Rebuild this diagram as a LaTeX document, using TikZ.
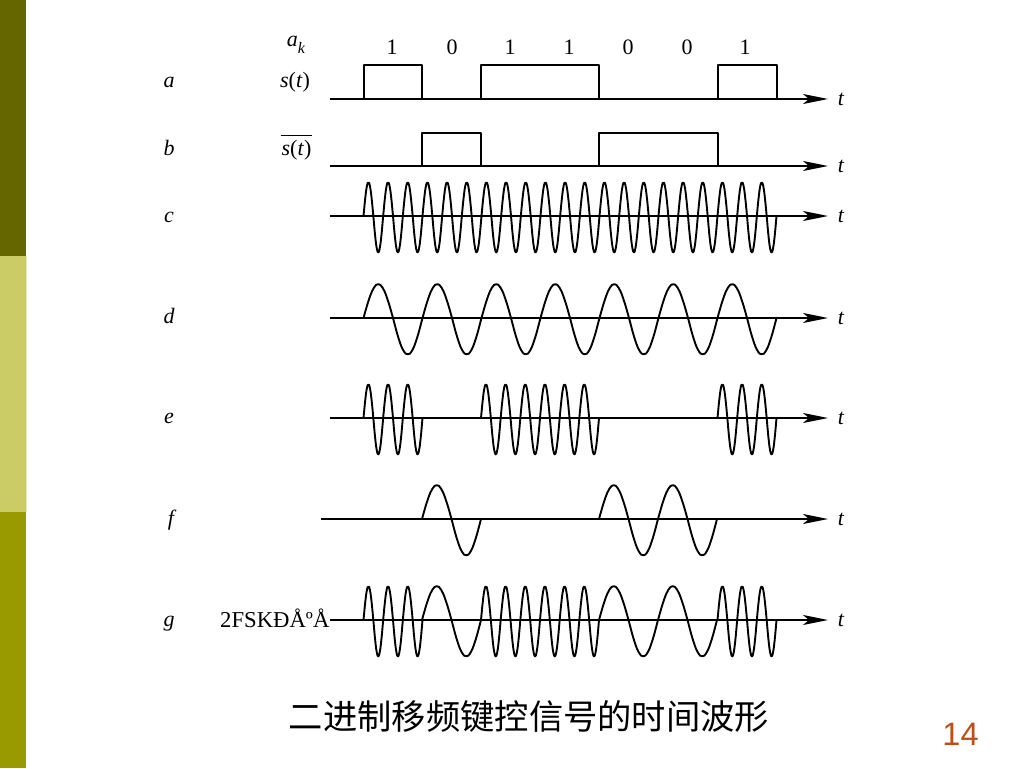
\documentclass[tikz,border=0pt]{standalone}
\usepackage{fontspec}
\setmainfont{Liberation Serif}
\newfontfamily\cjkfont{Noto Sans CJK SC}
\newfontfamily\numfont{Liberation Sans}
\usetikzlibrary{arrows.meta}
\definecolor{bandA}{HTML}{666600}
\definecolor{bandB}{HTML}{CCCC66}
\definecolor{bandC}{HTML}{999900}
\definecolor{pagenum}{HTML}{C04F15}
\tikzset{
  x=1pt,y=-1pt,
  lab/.style={font=\fontsize{22}{26}\selectfont\itshape,inner sep=0pt,anchor=base},
  num/.style={font=\fontsize{22}{26}\selectfont,inner sep=0pt,anchor=base},
  axisline/.style={line width=1.9pt,-{Stealth[length=25pt,width=10pt,inset=6pt]}},
  trace/.style={line width=1.9pt,line join=round},
  wavetrace/.style={line width=1.9pt,line join=round,smooth}
}
% \wavepart{axis y}{bit start}{bits}{cycles per bit}
\newcommand{\wavepart}[4]{%
  \draw[wavetrace] plot[domain=0:#3*59,samples=#3*#4*14+1,variable=\u]
    ({#2+\u},{#1-(sin(6.10169*#4*\u)>0?34:36.5)*sin(6.10169*#4*\u)});}
\begin{document}
\begin{tikzpicture}
\useasboundingbox (0,0) rectangle (1024,768);
\fill[white] (0,0) rectangle (1024,768);
\fill[bandA] (0,0) rectangle (26,256);
\fill[bandB] (0,256) rectangle (26,512);
\fill[bandC] (0,512) rectangle (26,768);
\fill[bandB!45] (26,256) rectangle (27,512);
% row labels
\node[lab] (la) at (169,87) {a};
\node[lab] (lb) at (169,155) {b};
\node[lab] (lc) at (169,222) {c};
\node[lab] (ld) at (169,323) {d};
\node[lab] (le) at (169,423) {e};
\node[lab] (lf) at (171,525) {f};
\node[lab] (lg) at (169,626) {g};
\node[lab] (ak) at (296,47) {a\raisebox{-6pt}{\fontsize{16}{16}\selectfont k}};
\node[num] (st) at (295,87) {\textit{s}(\textit{t})};
\node[num] (sb) at (296.5,155) {\vbox{\hrule height 1.5pt\kern3.5pt\hbox{\kern1pt\textit{s}(\textit{t})\kern1pt}}};
\node[num,anchor=base west,font=\fontsize{22.7}{26}\selectfont] (fsk) at (220,627) {2FSKÐÅºÅ};
% bit labels
\node[num] (b1) at (392,55) {1};
\node[num] (b2) at (452,55) {0};
\node[num] (b3) at (510,55) {1};
\node[num] (b4) at (569,55) {1};
\node[num] (b5) at (628,55) {0};
\node[num] (b6) at (687,55) {0};
\node[num] (b7) at (745,55) {1};
% axes
\foreach \nm/\sx/\yy in {a/330/99,b/330/166,c/330/216,d/330/318,e/330/418,f/321/519,g/330/620}{
  \coordinate (s\nm) at (\sx,\yy);
  \coordinate (e\nm) at (828,\yy);
  \node[lab] (t\nm) at (841,\yy+6) {t};
  \draw[axisline] (s\nm) -- (e\nm);
}
% pulses
\draw[trace] (364,99) |- (422,65) -- (422,99);
\draw[trace] (481,99) |- (599,65) -- (599,99);
\draw[trace] (718,99) |- (777,65) -- (777,99);
\draw[trace] (422,166) |- (481,133) -- (481,166);
\draw[trace] (599,166) |- (718,133) -- (718,166);
% c, d
\wavepart{216}{363.5}{7}{3}
\wavepart{318}{363.5}{7}{1}
% e
\wavepart{418}{363.5}{1}{3}
\wavepart{418}{481}{2}{3}
\wavepart{418}{717.5}{1}{3}
% f
\wavepart{519}{422}{1}{1}
\wavepart{519}{599}{2}{1}
% g
\wavepart{620}{363.5}{1}{3}
\wavepart{620}{422}{1}{1}
\wavepart{620}{481}{2}{3}
\wavepart{620}{599}{2}{1}
\wavepart{620}{717.5}{1}{3}
% title, page number
\node[inner sep=0pt,font=\fontsize{34.3}{38}\cjkfont] (title) at (529,716) {二进制移频键控信号的时间波形};
\node[inner sep=0pt,font=\fontsize{32.5}{36}\numfont,text=pagenum] (page) at (960.5,734) {14};
\end{tikzpicture}
\end{document}
